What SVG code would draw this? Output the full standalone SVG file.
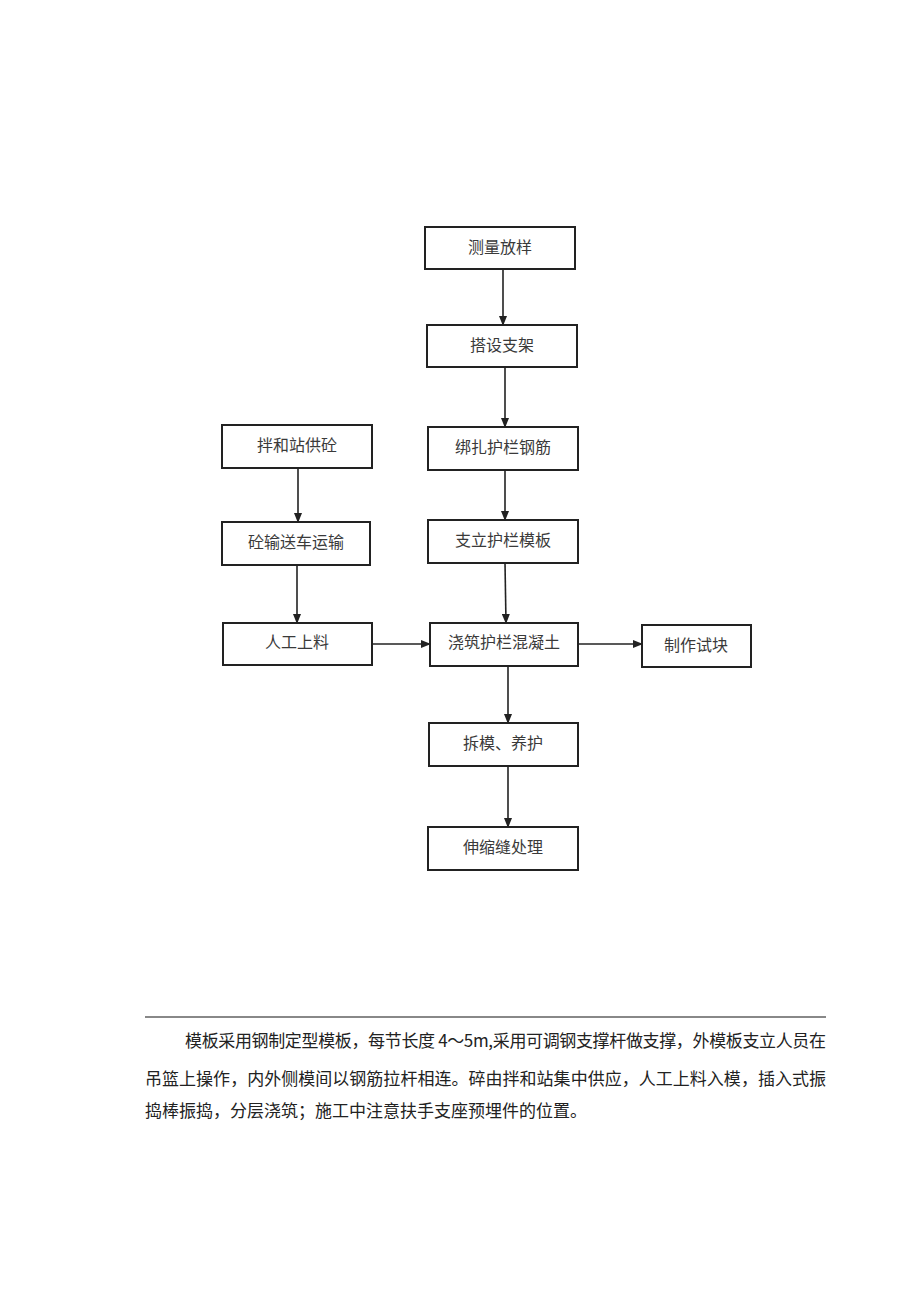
<svg xmlns="http://www.w3.org/2000/svg" width="920" height="1301" viewBox="0 0 920 1301">
<style>
.box{fill:#fff;stroke:#222;stroke-width:2}
.lbl{font-family:"Noto Sans CJK SC","Liberation Sans",sans-serif;font-size:16px;fill:#3a3a3a;text-anchor:middle;dominant-baseline:central}
.con{stroke:#222;stroke-width:1.6;fill:none;marker-end:url(#ah)}
.para{font-family:"Noto Sans CJK SC","Liberation Sans",sans-serif;font-size:17px;fill:#222}
</style>
<defs>
<marker id="ah" markerWidth="10" markerHeight="8" refX="9" refY="4" orient="auto" markerUnits="userSpaceOnUse">
<path d="M0,0 L10,4 L0,8 Z" fill="#222"/>
</marker>
</defs>
<rect width="920" height="1301" fill="#fff"/>
<g id="n1"><rect class="box" x="425" y="227" width="150" height="42"/><text class="lbl" x="500" y="246">测量放样</text></g>
<g id="n2"><rect class="box" x="427" y="325" width="150" height="42"/><text class="lbl" x="502" y="344">搭设支架</text></g>
<g id="n3"><rect class="box" x="428" y="427" width="150" height="43"/><text class="lbl" x="503" y="446">绑扎护栏钢筋</text></g>
<g id="n4"><rect class="box" x="428" y="520" width="150" height="43"/><text class="lbl" x="503" y="539">支立护栏模板</text></g>
<g id="n5"><rect class="box" x="222" y="425" width="150" height="43"/><text class="lbl" x="297" y="444">拌和站供砼</text></g>
<g id="n6"><rect class="box" x="222" y="522" width="148" height="43"/><text class="lbl" x="296" y="541">砼输送车运输</text></g>
<g id="n7"><rect class="box" x="223" y="623" width="149" height="42"/><text class="lbl" x="297" y="641">人工上料</text></g>
<g id="n8"><rect class="box" x="430" y="623" width="148" height="43"/><text class="lbl" x="504" y="641">浇筑护栏混凝土</text></g>
<g id="n9"><rect class="box" x="642" y="625" width="109" height="42"/><text class="lbl" x="696" y="644">制作试块</text></g>
<g id="n10"><rect class="box" x="429" y="723" width="149" height="43"/><text class="lbl" x="503" y="742">拆模、养护</text></g>
<g id="n11"><rect class="box" x="428" y="827" width="150" height="43"/><text class="lbl" x="503" y="846">伸缩缝处理</text></g>
<g id="connectors">
<line class="con" x1="503" y1="269" x2="503" y2="325"/>
<line class="con" x1="505" y1="367" x2="505" y2="427"/>
<line class="con" x1="505" y1="470" x2="505" y2="520"/>
<line class="con" x1="505" y1="563" x2="506" y2="623"/>
<line class="con" x1="298" y1="468" x2="298" y2="522"/>
<line class="con" x1="297" y1="565" x2="297" y2="623"/>
<line class="con" x1="372" y1="644" x2="430" y2="644"/>
<line class="con" x1="578" y1="644" x2="642" y2="644"/>
<line class="con" x1="508" y1="666" x2="508" y2="723"/>
<line class="con" x1="508" y1="766" x2="508" y2="827"/>
</g>
<line x1="145" y1="1017" x2="826" y2="1017" stroke="#888" stroke-width="2"/>
<text class="para" x="185" y="1047" textLength="641" lengthAdjust="spacing">模板采用钢制定型模板，每节长度 4～5m,采用可调钢支撑杆做支撑，外模板支立人员在</text>
<text class="para" x="145" y="1085" textLength="681" lengthAdjust="spacing">吊篮上操作，内外侧模间以钢筋拉杆相连。碎由拌和站集中供应，人工上料入模，插入式振</text>
<text class="para" x="145" y="1117">捣棒振捣，分层浇筑；施工中注意扶手支座预埋件的位置。</text>
</svg>
